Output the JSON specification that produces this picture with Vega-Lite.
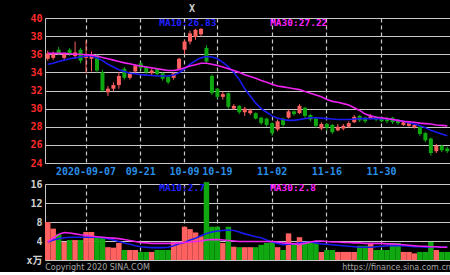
{
  "$schema": "https://vega.github.io/schema/vega-lite/v6.json",
  "background": "#000000",
  "padding": {"left": 25, "top": 3, "right": 0, "bottom": 0},
  "spacing": 3,
  "config": {
    "view": {"stroke": null},
    "axis": {"labelFont": "DejaVu Sans Mono, Noto Sans CJK SC", "labelFontWeight": "bold", "labelFontSize": 10, "title": null, "ticks": false}
  },
  "data": {"values": [
    {"d":"2020-08-27","o":35.5,"h":36.4,"l":35.3,"c":36.1,"v":8.0,"m10":34.9,"m30":36.1,"vm10":3.8,"vm30":3.8},
    {"d":"2020-08-28","o":35.6,"h":36.3,"l":35.4,"c":36.0,"v":6.6,"m10":35.0,"m30":36.1,"vm10":4.2,"vm30":4.6},
    {"d":"2020-08-31","o":36.5,"h":36.8,"l":35.9,"c":36.1,"v":5.4,"m10":35.2,"m30":36.1,"vm10":4.5,"vm30":5.4},
    {"d":"2020-09-01","o":35.6,"h":36.2,"l":35.4,"c":36.0,"v":3.8,"m10":35.35,"m30":36.1,"vm10":4.7,"vm30":5.8},
    {"d":"2020-09-02","o":36.5,"h":36.7,"l":35.8,"c":36.1,"v":4.2,"m10":35.5,"m30":36.05,"vm10":4.8,"vm30":5.7},
    {"d":"2020-09-03","o":35.8,"h":37.4,"l":35.5,"c":36.2,"v":4.2,"m10":35.6,"m30":36.0,"vm10":4.8,"vm30":5.5},
    {"d":"2020-09-04","o":36.5,"h":36.7,"l":35.0,"c":35.3,"v":4.2,"m10":35.7,"m30":36.0,"vm10":4.8,"vm30":5.3},
    {"d":"2020-09-07","o":35.6,"h":37.5,"l":33.9,"c":36.0,"v":5.9,"m10":35.8,"m30":35.95,"vm10":4.8,"vm30":5.2},
    {"d":"2020-09-08","o":35.5,"h":36.3,"l":34.1,"c":36.0,"v":5.9,"m10":35.8,"m30":35.9,"vm10":4.8,"vm30":5.0},
    {"d":"2020-09-09","o":35.9,"h":36.0,"l":34.0,"c":34.2,"v":4.8,"m10":35.6,"m30":35.8,"vm10":4.8,"vm30":4.9},
    {"d":"2020-09-10","o":34.0,"h":34.3,"l":31.9,"c":32.0,"v":4.8,"m10":35.3,"m30":35.65,"vm10":4.7,"vm30":4.8},
    {"d":"2020-09-11","o":31.8,"h":32.5,"l":31.4,"c":32.2,"v":2.7,"m10":34.9,"m30":35.5,"vm10":4.5,"vm30":4.7},
    {"d":"2020-09-14","o":32.2,"h":32.9,"l":31.9,"c":32.6,"v":2.6,"m10":34.6,"m30":35.35,"vm10":4.2,"vm30":4.6},
    {"d":"2020-09-15","o":32.6,"h":34.0,"l":32.2,"c":33.6,"v":3.6,"m10":34.3,"m30":35.2,"vm10":3.9,"vm30":4.5},
    {"d":"2020-09-16","o":34.4,"h":34.6,"l":33.2,"c":33.4,"v":2.1,"m10":34.1,"m30":35.05,"vm10":3.6,"vm30":4.3},
    {"d":"2020-09-17","o":33.4,"h":34.1,"l":33.2,"c":33.9,"v":2.1,"m10":33.9,"m30":34.95,"vm10":3.3,"vm30":4.1},
    {"d":"2020-09-18","o":34.1,"h":34.9,"l":33.9,"c":34.7,"v":2.1,"m10":33.85,"m30":34.8,"vm10":3.0,"vm30":3.9},
    {"d":"2020-09-21","o":35.0,"h":35.1,"l":34.3,"c":34.5,"v":1.7,"m10":33.75,"m30":34.7,"vm10":2.8,"vm30":3.7},
    {"d":"2020-09-22","o":34.6,"h":34.7,"l":33.8,"c":34.0,"v":1.7,"m10":33.7,"m30":34.6,"vm10":2.7,"vm30":3.6},
    {"d":"2020-09-23","o":33.9,"h":34.4,"l":33.7,"c":34.2,"v":1.7,"m10":33.65,"m30":34.5,"vm10":2.6,"vm30":3.5},
    {"d":"2020-09-24","o":34.4,"h":34.5,"l":33.6,"c":33.8,"v":2.1,"m10":33.6,"m30":34.4,"vm10":2.6,"vm30":3.5},
    {"d":"2020-09-25","o":33.9,"h":34.0,"l":33.1,"c":33.3,"v":2.1,"m10":33.6,"m30":34.3,"vm10":2.6,"vm30":3.5},
    {"d":"2020-09-28","o":33.5,"h":33.6,"l":32.7,"c":32.9,"v":2.1,"m10":33.6,"m30":34.2,"vm10":2.7,"vm30":3.5},
    {"d":"2020-09-29","o":33.4,"h":34.0,"l":33.2,"c":33.9,"v":3.8,"m10":33.7,"m30":34.2,"vm10":3.0,"vm30":3.5},
    {"d":"2020-09-30","o":34.4,"h":35.6,"l":34.3,"c":35.5,"v":3.8,"m10":33.95,"m30":34.3,"vm10":3.4,"vm30":3.6},
    {"d":"2020-10-09","o":36.5,"h":37.6,"l":36.0,"c":37.4,"v":7.0,"m10":34.4,"m30":34.5,"vm10":3.7,"vm30":3.7},
    {"d":"2020-10-12","o":37.4,"h":38.6,"l":37.1,"c":38.3,"v":6.5,"m10":34.9,"m30":34.7,"vm10":4.2,"vm30":3.8},
    {"d":"2020-10-13","o":37.9,"h":38.8,"l":37.6,"c":38.7,"v":5.8,"m10":35.3,"m30":34.85,"vm10":4.6,"vm30":3.9},
    {"d":"2020-10-14","o":38.2,"h":38.88,"l":38.0,"c":38.8,"v":5.0,"m10":35.6,"m30":35.0,"vm10":5.1,"vm30":4.0},
    {"d":"2020-10-15","o":36.7,"h":37.0,"l":35.0,"c":35.2,"v":16.4,"m10":35.75,"m30":35.0,"vm10":5.6,"vm30":4.2},
    {"d":"2020-10-16","o":33.6,"h":33.8,"l":31.5,"c":31.7,"v":7.0,"m10":35.7,"m30":34.9,"vm10":5.9,"vm30":4.3},
    {"d":"2020-10-19","o":32.2,"h":32.3,"l":31.1,"c":31.3,"v":7.0,"m10":35.5,"m30":34.75,"vm10":6.1,"vm30":4.3},
    {"d":"2020-10-20","o":31.3,"h":31.9,"l":31.0,"c":31.6,"v":3.6,"m10":35.1,"m30":34.6,"vm10":6.2,"vm30":4.2},
    {"d":"2020-10-21","o":31.7,"h":31.8,"l":30.0,"c":30.2,"v":7.0,"m10":34.6,"m30":34.4,"vm10":6.3,"vm30":4.1},
    {"d":"2020-10-22","o":30.0,"h":30.5,"l":29.9,"c":30.3,"v":2.8,"m10":34.0,"m30":34.2,"vm10":6.2,"vm30":4.0},
    {"d":"2020-10-23","o":30.3,"h":30.4,"l":29.4,"c":29.6,"v":2.7,"m10":33.2,"m30":34.0,"vm10":5.9,"vm30":3.9},
    {"d":"2020-10-26","o":29.6,"h":30.2,"l":29.2,"c":30.0,"v":2.7,"m10":32.2,"m30":33.75,"vm10":5.5,"vm30":3.9},
    {"d":"2020-10-27","o":29.5,"h":30.0,"l":29.3,"c":29.8,"v":2.7,"m10":31.4,"m30":33.55,"vm10":5.2,"vm30":3.9},
    {"d":"2020-10-28","o":29.5,"h":29.6,"l":28.8,"c":28.9,"v":2.7,"m10":30.6,"m30":33.35,"vm10":4.9,"vm30":3.9},
    {"d":"2020-10-29","o":29.0,"h":29.1,"l":28.2,"c":28.4,"v":3.2,"m10":30.0,"m30":33.1,"vm10":4.7,"vm30":3.9},
    {"d":"2020-10-30","o":28.9,"h":29.0,"l":28.0,"c":28.2,"v":3.6,"m10":29.6,"m30":32.9,"vm10":4.2,"vm30":3.9},
    {"d":"2020-11-02","o":28.4,"h":28.5,"l":27.0,"c":27.3,"v":4.0,"m10":29.2,"m30":32.7,"vm10":3.8,"vm30":3.9},
    {"d":"2020-11-03","o":27.7,"h":28.8,"l":27.5,"c":28.6,"v":2.7,"m10":28.95,"m30":32.5,"vm10":3.5,"vm30":3.8},
    {"d":"2020-11-04","o":28.9,"h":29.0,"l":28.0,"c":28.2,"v":2.1,"m10":28.8,"m30":32.4,"vm10":3.2,"vm30":3.6},
    {"d":"2020-11-05","o":29.0,"h":29.9,"l":28.9,"c":29.7,"v":5.6,"m10":28.7,"m30":32.3,"vm10":3.3,"vm30":3.5},
    {"d":"2020-11-06","o":29.7,"h":29.8,"l":29.2,"c":29.4,"v":3.3,"m10":28.7,"m30":32.2,"vm10":3.4,"vm30":3.4},
    {"d":"2020-11-09","o":29.5,"h":30.5,"l":29.4,"c":30.3,"v":4.8,"m10":28.8,"m30":32.1,"vm10":3.6,"vm30":3.3},
    {"d":"2020-11-10","o":30.1,"h":30.2,"l":29.0,"c":29.2,"v":3.6,"m10":28.9,"m30":31.9,"vm10":3.7,"vm30":3.5},
    {"d":"2020-11-11","o":29.3,"h":29.4,"l":28.6,"c":28.8,"v":3.6,"m10":29.0,"m30":31.7,"vm10":3.8,"vm30":3.8},
    {"d":"2020-11-12","o":28.9,"h":29.0,"l":27.9,"c":28.1,"v":3.6,"m10":29.0,"m30":31.5,"vm10":3.6,"vm30":4.0},
    {"d":"2020-11-13","o":27.8,"h":28.5,"l":27.6,"c":28.3,"v":1.7,"m10":28.95,"m30":31.3,"vm10":3.4,"vm30":4.0},
    {"d":"2020-11-16","o":28.3,"h":28.4,"l":27.6,"c":27.9,"v":2.1,"m10":28.9,"m30":31.0,"vm10":3.3,"vm30":3.9},
    {"d":"2020-11-17","o":28.2,"h":28.3,"l":27.2,"c":27.4,"v":2.1,"m10":28.85,"m30":30.8,"vm10":3.2,"vm30":3.8},
    {"d":"2020-11-18","o":27.6,"h":28.3,"l":27.5,"c":28.0,"v":1.7,"m10":28.8,"m30":30.7,"vm10":3.1,"vm30":3.8},
    {"d":"2020-11-19","o":27.8,"h":28.3,"l":27.6,"c":28.1,"v":1.7,"m10":28.8,"m30":30.55,"vm10":3.0,"vm30":3.7},
    {"d":"2020-11-20","o":28.0,"h":28.6,"l":27.9,"c":28.4,"v":1.7,"m10":28.8,"m30":30.4,"vm10":2.9,"vm30":3.7},
    {"d":"2020-11-23","o":28.5,"h":29.3,"l":28.4,"c":29.1,"v":1.7,"m10":28.85,"m30":30.1,"vm10":2.8,"vm30":3.6},
    {"d":"2020-11-24","o":29.2,"h":29.3,"l":28.5,"c":28.7,"v":3.0,"m10":28.9,"m30":29.8,"vm10":2.7,"vm30":3.6},
    {"d":"2020-11-25","o":29.0,"h":29.1,"l":28.4,"c":28.6,"v":3.0,"m10":28.9,"m30":29.4,"vm10":2.7,"vm30":3.5},
    {"d":"2020-11-26","o":28.9,"h":29.4,"l":28.8,"c":29.2,"v":3.6,"m10":28.9,"m30":29.2,"vm10":2.7,"vm30":3.5},
    {"d":"2020-11-27","o":29.1,"h":29.2,"l":28.6,"c":28.8,"v":2.1,"m10":28.9,"m30":29.05,"vm10":2.8,"vm30":3.5},
    {"d":"2020-11-30","o":28.9,"h":29.0,"l":28.5,"c":28.6,"v":2.1,"m10":28.9,"m30":29.0,"vm10":2.9,"vm30":3.5},
    {"d":"2020-12-01","o":28.9,"h":29.1,"l":28.4,"c":28.6,"v":2.1,"m10":28.85,"m30":28.9,"vm10":3.0,"vm30":3.4},
    {"d":"2020-12-02","o":29.0,"h":29.1,"l":28.3,"c":28.5,"v":3.6,"m10":28.8,"m30":28.8,"vm10":3.0,"vm30":3.4},
    {"d":"2020-12-03","o":28.7,"h":28.8,"l":28.2,"c":28.4,"v":3.6,"m10":28.7,"m30":28.7,"vm10":3.0,"vm30":3.3},
    {"d":"2020-12-04","o":28.2,"h":28.6,"l":28.1,"c":28.5,"v":1.7,"m10":28.6,"m30":28.6,"vm10":3.0,"vm30":3.2},
    {"d":"2020-12-07","o":28.1,"h":28.5,"l":28.0,"c":28.4,"v":1.7,"m10":28.45,"m30":28.55,"vm10":2.9,"vm30":3.1},
    {"d":"2020-12-08","o":27.9,"h":28.3,"l":27.8,"c":28.2,"v":1.4,"m10":28.3,"m30":28.5,"vm10":2.8,"vm30":3.0},
    {"d":"2020-12-09","o":28.0,"h":28.1,"l":27.0,"c":27.2,"v":1.7,"m10":28.1,"m30":28.4,"vm10":2.8,"vm30":2.9},
    {"d":"2020-12-10","o":27.3,"h":27.4,"l":26.3,"c":26.5,"v":1.7,"m10":27.9,"m30":28.35,"vm10":2.7,"vm30":2.9},
    {"d":"2020-12-11","o":26.7,"h":26.8,"l":24.8,"c":25.1,"v":3.8,"m10":27.6,"m30":28.3,"vm10":2.8,"vm30":2.8},
    {"d":"2020-12-14","o":25.3,"h":26.1,"l":25.1,"c":25.9,"v":2.1,"m10":27.4,"m30":28.2,"vm10":2.8,"vm30":2.8},
    {"d":"2020-12-15","o":25.9,"h":26.0,"l":25.2,"c":25.4,"v":1.7,"m10":27.2,"m30":28.15,"vm10":2.7,"vm30":2.7},
    {"d":"2020-12-16","o":25.6,"h":25.8,"l":25.1,"c":25.3,"v":1.7,"m10":27.0,"m30":28.1,"vm10":2.7,"vm30":2.7}
  ]},
  "vconcat": [
    {
      "width": 405,
      "height": 145,
      "encoding": {
        "x": {
          "field": "d", "type": "ordinal",
          "scale": {"paddingInner": 0, "paddingOuter": 0},
          "axis": {
            "values": ["2020-09-07", "2020-09-21", "2020-10-09", "2020-10-19", "2020-11-02", "2020-11-16", "2020-11-30"],
            "labelExpr": "datum.value == '2020-09-07' ? datum.value : slice(datum.value, 5)",
            "labelAngle": 0, "labelColor": "#2a8fe6", "labelPadding": 3, "labelOverlap": false,
            "grid": true, "gridColor": "#c8c8c8", "gridDash": [4, 3], "gridWidth": 1.2,
            "domain": false
          }
        }
      },
      "layer": [
        {
          "mark": {"type": "rule", "strokeWidth": 1},
          "encoding": {
            "y": {
              "field": "l", "type": "quantitative",
              "scale": {"domain": [24, 40], "nice": false, "zero": false},
              "axis": {
                "values": [24, 26, 28, 30, 32, 34, 36, 38, 40],
                "tickCount": 20,
                "labelColor": "#ff2a2a", "labelPadding": 3,
                "labelOverlap": false, "labelBound": false, "labelFlush": false,
                "grid": true, "gridColor": "#c8c8c8", "gridWidth": 1,
                "domain": true, "domainColor": "#c8c8c8"
              }
            },
            "y2": {"field": "h"},
            "color": {"condition": {"test": "datum.c >= datum.o", "value": "#ff6060"}, "value": "#10a810"}
          }
        },
        {
          "mark": {"type": "bar", "size": 4},
          "encoding": {
            "y": {"field": "o", "type": "quantitative"},
            "y2": {"field": "c"},
            "color": {"condition": {"test": "datum.c >= datum.o", "value": "#ff6060"}, "value": "#10a810"}
          }
        },
        {
          "mark": {"type": "line", "color": "#1a1aee", "strokeWidth": 1.6},
          "encoding": {"y": {"field": "m10", "type": "quantitative"}}
        },
        {
          "mark": {"type": "line", "color": "#ee22ee", "strokeWidth": 1.6},
          "encoding": {"y": {"field": "m30", "type": "quantitative"}}
        },
        {
          "data": {"values": [{"t": "MA10:26.83"}]},
          "mark": {"type": "text", "align": "left", "baseline": "middle", "dx": 2, "font": "DejaVu Sans Mono", "fontWeight": "bold", "fontSize": 9.5, "color": "#2020ff"},
          "encoding": {"x": {"datum": "2020-09-24"}, "y": {"datum": 39.5}, "text": {"field": "t"}}
        },
        {
          "data": {"values": [{"t": "MA30:27.22"}]},
          "mark": {"type": "text", "align": "left", "baseline": "middle", "dx": -2, "font": "DejaVu Sans Mono", "fontWeight": "bold", "fontSize": 9.5, "color": "#ff22ff"},
          "encoding": {"x": {"datum": "2020-11-02"}, "y": {"datum": 39.5}, "text": {"field": "t"}}
        },
        {
          "data": {"values": [{"t": "X"}]},
          "mark": {"type": "text", "align": "center", "baseline": "middle", "dx": 2, "font": "DejaVu Sans Mono", "fontWeight": "bold", "fontSize": 10, "color": "#d0d0d0"},
          "encoding": {"x": {"datum": "2020-10-12"}, "y": {"datum": 41.0}, "text": {"field": "t"}}
        }
      ]
    },
    {
      "width": 405,
      "height": 76,
      "encoding": {
        "x": {
          "field": "d", "type": "ordinal",
          "scale": {"paddingInner": 0, "paddingOuter": 0},
          "axis": {
            "values": ["2020-09-07", "2020-09-21", "2020-10-09", "2020-10-19", "2020-11-02", "2020-11-16", "2020-11-30"],
            "labels": false,
            "grid": true, "gridColor": "#c8c8c8", "gridDash": [4, 3], "gridWidth": 1.2,
            "domain": false
          }
        }
      },
      "layer": [
        {
          "mark": {"type": "bar", "width": {"band": 1}},
          "encoding": {
            "y": {
              "field": "v", "type": "quantitative",
              "scale": {"domain": [0, 16], "nice": false},
              "axis": {
                "values": [0, 4, 8, 12, 16],
                "tickCount": 20,
                "labelExpr": "datum.value == 0 ? 'x万' : datum.label",
                "labelColor": "#d0d0d0", "labelPadding": 3,
                "labelOverlap": false, "labelBound": false, "labelFlush": false,
                "grid": true, "gridColor": "#c8c8c8", "gridWidth": 1,
                "domain": true, "domainColor": "#c8c8c8"
              }
            },
            "color": {"condition": {"test": "datum.c >= datum.o", "value": "#ff6060"}, "value": "#10a810"}
          }
        },
        {
          "mark": {"type": "line", "color": "#1a1aee", "strokeWidth": 1.6},
          "encoding": {"y": {"field": "vm10", "type": "quantitative"}}
        },
        {
          "mark": {"type": "line", "color": "#ee22ee", "strokeWidth": 1.6},
          "encoding": {"y": {"field": "vm30", "type": "quantitative"}}
        },
        {
          "data": {"values": [{"t": "MA10:2.7"}]},
          "mark": {"type": "text", "align": "left", "baseline": "middle", "dx": 2, "font": "DejaVu Sans Mono", "fontWeight": "bold", "fontSize": 9.5, "color": "#2020ff"},
          "encoding": {"x": {"datum": "2020-09-24"}, "y": {"datum": 15.1}, "text": {"field": "t"}}
        },
        {
          "data": {"values": [{"t": "MA30:2.8"}]},
          "mark": {"type": "text", "align": "left", "baseline": "middle", "dx": -2, "font": "DejaVu Sans Mono", "fontWeight": "bold", "fontSize": 9.5, "color": "#ff22ff"},
          "encoding": {"x": {"datum": "2020-11-02"}, "y": {"datum": 15.1}, "text": {"field": "t"}}
        },
        {
          "data": {"values": [{"t": "Copyright 2020 SINA.COM"}]},
          "mark": {"type": "text", "align": "left", "baseline": "middle", "dx": -2.5, "font": "DejaVu Sans", "fontSize": 8, "color": "#a8a8a8"},
          "encoding": {"x": {"datum": "2020-08-27"}, "y": {"datum": -1.6}, "text": {"field": "t"}}
        },
        {
          "data": {"values": [{"t": "https://finance.sina.com.cn"}]},
          "mark": {"type": "text", "align": "left", "baseline": "middle", "dx": -1, "font": "DejaVu Sans", "fontSize": 8, "color": "#a8a8a8"},
          "encoding": {"x": {"datum": "2020-11-19"}, "y": {"datum": -1.6}, "text": {"field": "t"}}
        }
      ]
    }
  ]
}
